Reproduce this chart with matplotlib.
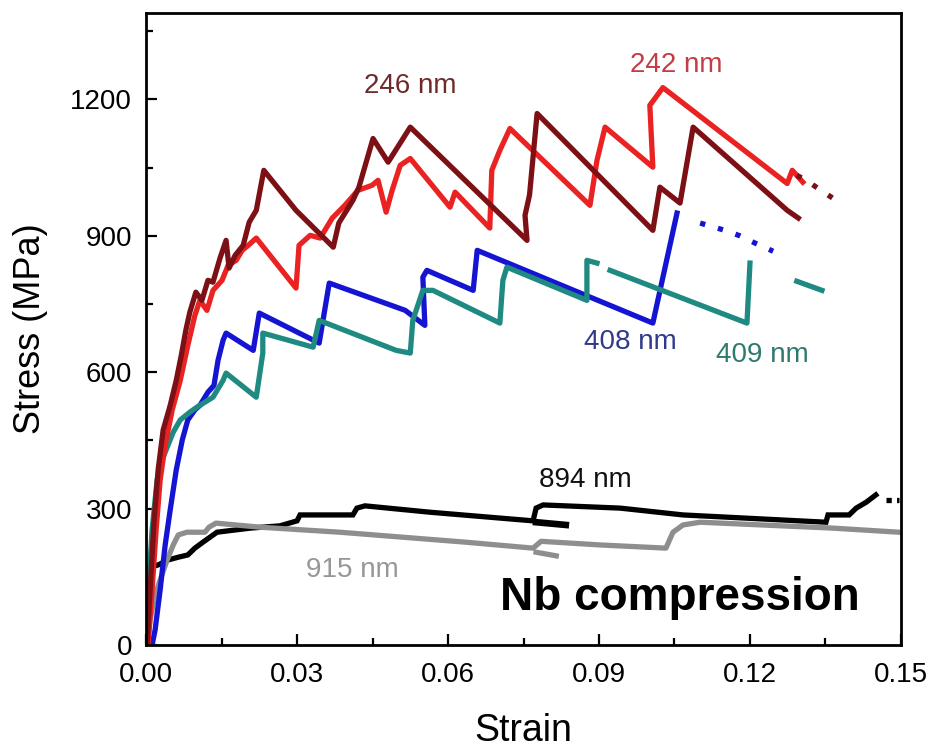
import matplotlib
matplotlib.use('Agg')
from matplotlib import pyplot as plt
from matplotlib.ticker import MultipleLocator, FormatStrFormatter

plt.rcParams['font.family'] = ['Liberation Sans', 'DejaVu Sans']

# 246 nm pillar (dark red)
strain_246 = [0.0002, 0.0008, 0.0016, 0.0024, 0.0034, 0.0048, 0.0060, 0.0070, 0.0079, 0.0087,
              0.0099, 0.0111, 0.0123, 0.0133, 0.0147, 0.0159, 0.0165, 0.0177, 0.0193, 0.0205,
              0.0219, 0.0234, 0.0298, 0.0372, 0.0383, 0.0411, 0.0423, 0.0451, 0.0481, 0.0525,
              0.0757, 0.0753, 0.0762, 0.0777, 0.1007, 0.1021, 0.1061, 0.1087, 0.1274, 0.1296]
stress_246 = [0, 121, 275, 385, 473, 527, 582, 637, 692, 732,
              776, 758, 802, 798, 851, 890, 829, 857, 879, 930,
              956, 1044, 956, 875, 928, 978, 1007, 1114, 1062, 1139,
              890, 945, 990, 1169, 912, 1007, 972, 1139, 956, 939]
tail_strain_246 = [0.1293, 0.1312, 0.1329, 0.1371]
tail_stress_246 = [1033, 1022, 1009, 978]

# 242 nm pillar (red)
strain_242 = [0.0004, 0.0012, 0.0020, 0.0028, 0.0038, 0.0052, 0.0068, 0.0083, 0.0097, 0.0107,
              0.0121, 0.0133, 0.0151, 0.0163, 0.0179, 0.0191, 0.0203, 0.0219, 0.0298, 0.0304,
              0.0326, 0.0346, 0.0370, 0.0395, 0.0421, 0.0449, 0.0461, 0.0477, 0.0489, 0.0505,
              0.0525, 0.0604, 0.0614, 0.0683, 0.0687, 0.0703, 0.0723, 0.0882, 0.0896, 0.0912,
              0.1007, 0.1001, 0.1027, 0.1274, 0.1284, 0.1305]
stress_242 = [0, 121, 253, 363, 440, 517, 582, 659, 725, 758,
              736, 780, 802, 835, 846, 868, 879, 895, 785, 879,
              901, 895, 939, 967, 1000, 1011, 1022, 952, 1000, 1055,
              1070, 963, 996, 917, 1044, 1088, 1136, 967, 1066, 1139,
              1051, 1187, 1226, 1015, 1044, 1018]

# 408 nm pillar (blue)
strain_408 = [0.0012, 0.0018, 0.0028, 0.0038, 0.0048, 0.0060, 0.0072, 0.0083, 0.0097, 0.0107,
              0.0123, 0.0135, 0.0143, 0.0153, 0.0159, 0.0213, 0.0225, 0.0344, 0.0364, 0.0515,
              0.0554, 0.0550, 0.0558, 0.0650, 0.0658, 0.1007, 0.1055]
stress_408 = [0, 33, 121, 220, 297, 385, 451, 495, 517, 527,
              556, 571, 626, 670, 686, 648, 730, 664, 796, 736,
              703, 809, 824, 780, 868, 708, 950]
tail_strain_408 = [0.1101, 0.1150, 0.1180, 0.1210, 0.1246]
tail_stress_408 = [928, 912, 900, 884, 866]

# 409 nm pillar (teal)
strain_409 = [0.0002, 0.0006, 0.0012, 0.0022, 0.0032, 0.0042, 0.0054, 0.0068, 0.0087, 0.0101,
              0.0117, 0.0133, 0.0153, 0.0159, 0.0219, 0.0232, 0.0232, 0.0332, 0.0344, 0.0497,
              0.0525, 0.0530, 0.0550, 0.0570, 0.0703, 0.0709, 0.0717, 0.0876, 0.0876, 0.0896]
stress_409 = [0, 143, 253, 363, 407, 435, 468, 495, 512, 523,
              534, 545, 582, 598, 545, 642, 686, 655, 714, 648,
              642, 714, 780, 780, 708, 802, 831, 758, 846, 840]
strain_409b = [0.0922, 0.1194, 0.1200]
stress_409b = [824, 708, 840]
tail_strain_409 = [0.1293, 0.1343]
tail_stress_409 = [800, 780]

# 894 nm pillar (black)
strain_894 = [0.0002, 0.0002, 0.0004, 0.0008, 0.0024, 0.0044, 0.0064, 0.0083, 0.0097, 0.0113,
              0.0127, 0.0141, 0.0207, 0.0266, 0.0300, 0.0306, 0.0411, 0.0419, 0.0435, 0.0564,
              0.0769, 0.0775, 0.0789, 0.0942, 0.1067, 0.1351, 0.1355, 0.1397, 0.1411, 0.1431,
              0.1450]
stress_894 = [0, 77, 154, 171, 176, 187, 193, 198, 213, 226,
              237, 248, 257, 262, 273, 286, 286, 301, 306, 292,
              273, 301, 308, 301, 286, 270, 286, 286, 301, 314,
              330]
stub_strain_894 = [0.0775, 0.0834]
stub_stress_894 = [270, 264]
tail_strain_894 = [0.1470, 0.1496]
tail_stress_894 = [319, 319]

# 915 nm pillar (gray)
strain_915 = [0.0002, 0.0008, 0.0018, 0.0028, 0.0042, 0.0054, 0.0064, 0.0081, 0.0117, 0.0125,
              0.0139, 0.0227, 0.0385, 0.0636, 0.0769, 0.0785, 0.0902, 0.1033, 0.1047, 0.1067,
              0.1101, 0.1365, 0.1496]
stress_915 = [0, 55, 110, 143, 187, 220, 242, 248, 248, 259,
              268, 259, 248, 226, 213, 228, 220, 213, 248, 264,
              270, 257, 248]
stub_strain_915 = [0.0775, 0.0815]
stub_stress_915 = [204, 196]

# size labels: text, strain, stress, colour
labels = [('246 nm', 0.0525, 1229, '#6e2a2a'),
          ('242 nm', 0.1053, 1275, '#c43c46'),
          ('408 nm', 0.0962, 666, '#2f3a8c'),
          ('409 nm', 0.1224, 637, '#2e7a70'),
          ('894 nm', 0.0872, 363, '#111111'),
          ('915 nm', 0.0409, 165, '#979797')]


def draw_curves(ax):
    lw = 3.8
    ax.plot(strain_894, stress_894, c='black', lw=lw, solid_joinstyle='miter')
    ax.plot(stub_strain_894, stub_stress_894, c='black', lw=lw + 1)
    ax.plot(tail_strain_894, tail_stress_894, c='black', lw=lw, ls=(0, (1, 1)))
    ax.plot(strain_915, stress_915, c='#8e8e8e', lw=lw)
    ax.plot(stub_strain_915, stub_stress_915, c='#8e8e8e', lw=lw)

    ax.plot(strain_408, stress_408, c='#1414d2', lw=lw)
    ax.plot(tail_strain_408, tail_stress_408, c='#1414d2', lw=lw, ls=(0, (1, 2.5)))
    ax.plot(strain_409, stress_409, c='#1f8a82', lw=lw)
    ax.plot(strain_409b, stress_409b, c='#1f8a82', lw=lw)
    ax.plot(tail_strain_409, tail_stress_409, c='#1f8a82', lw=lw)

    ax.plot(strain_242, stress_242, c='#ea2222', lw=lw)
    ax.plot(strain_246, stress_246, c='#7c1014', lw=lw)
    ax.plot(tail_strain_246, tail_stress_246, c='#7c1014', lw=lw, ls=(0, (1, 2.5)))


def style_axes(ax):
    ax.set_xlim(0, 0.15)
    ax.set_ylim(0, 1390)
    ax.xaxis.set_major_locator(MultipleLocator(0.03))
    ax.xaxis.set_minor_locator(MultipleLocator(0.015))
    ax.yaxis.set_major_locator(MultipleLocator(300))
    ax.yaxis.set_minor_locator(MultipleLocator(150))
    ax.xaxis.set_major_formatter(FormatStrFormatter('%.2f'))
    ax.tick_params(which='both', direction='in', top=False, right=False, width=1.6)
    ax.tick_params(which='major', length=8, labelsize=20)
    ax.tick_params(which='minor', length=5)
    ax.tick_params(axis='x', pad=12)
    ax.tick_params(axis='y', pad=10)
    for spine in ax.spines.values():
        spine.set_linewidth(2.0)
    ax.set_xlabel('Strain', fontsize=27, labelpad=18)
    ax.set_ylabel('Stress (MPa)', fontsize=26, labelpad=16)


def main():
    fig = plt.figure(figsize=(9.32, 7.49), dpi=100)
    ax = fig.add_axes([0.1567, 0.1389, 0.81, 0.8437])
    draw_curves(ax)
    style_axes(ax)

    for text, x, y, color in labels:
        ax.text(x, y, text, color=color, fontsize=20, ha='center', va='center')
    ax.text(0.1061, 103, 'Nb compression', fontsize=33, fontweight='bold',
            ha='center', va='center')

    fig.savefig('out.png', dpi=100)


if __name__ == '__main__':
    main()
